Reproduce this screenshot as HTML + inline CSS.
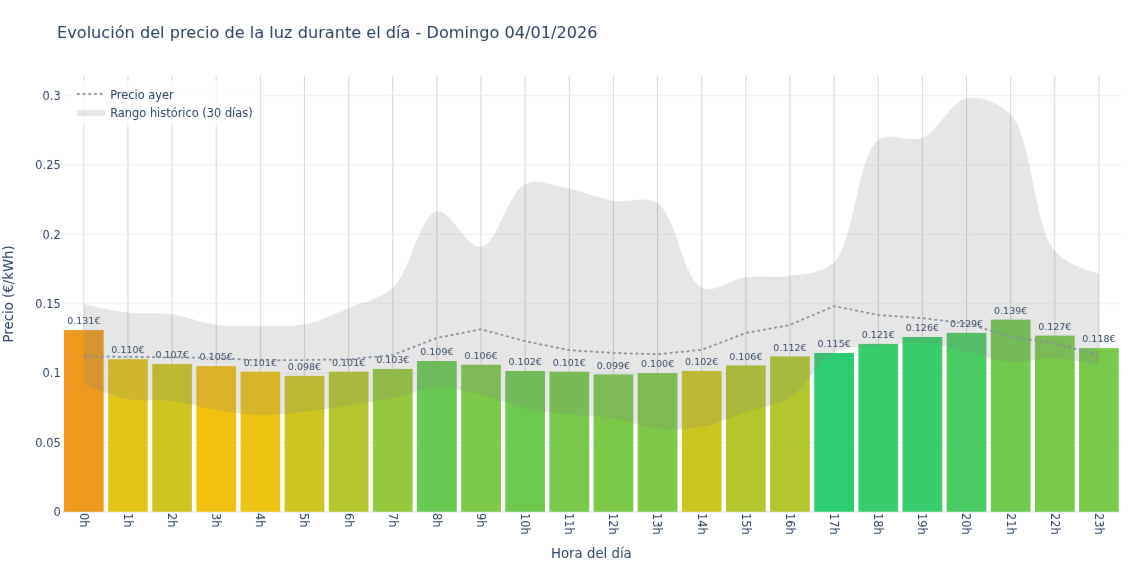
<!DOCTYPE html><html lang="es"><head><meta charset="utf-8"><title>Precio de la luz</title>
<style>html,body{margin:0;padding:0;background:#fff}body{width:1140px;height:570px;overflow:hidden}svg{display:block}text{font-family:"DejaVu Sans","Liberation Sans",sans-serif;fill:#2a3f5f;white-space:pre}</style></head><body>
<svg width="1140" height="570" viewBox="0 0 1140 570">
<defs><filter id="soft" x="0" y="0" width="1140" height="570" filterUnits="userSpaceOnUse" color-interpolation-filters="sRGB"><feConvolveMatrix order="3" kernelMatrix="0.0019 0.0439 0.0019 0.0439 1 0.0439 0.0019 0.0439 0.0019" divisor="1.1835" edgeMode="duplicate" preserveAlpha="true"/></filter></defs>
<rect width="1140" height="570" fill="#fff"/>
<g filter="url(#soft)">
<rect width="1140" height="570" fill="#fff"/>
<g stroke="#d3d3d3" stroke-width="0.95" fill="none">
<path d="M83.82,76 V511.8"/>
<path d="M127.95,76 V511.8"/>
<path d="M172.09,76 V511.8"/>
<path d="M216.22,76 V511.8"/>
<path d="M260.36,76 V511.8"/>
<path d="M304.49,76 V511.8"/>
<path d="M348.63,76 V511.8"/>
<path d="M392.77,76 V511.8"/>
<path d="M436.90,76 V511.8"/>
<path d="M481.04,76 V511.8"/>
<path d="M525.17,76 V511.8"/>
<path d="M569.31,76 V511.8"/>
<path d="M613.44,76 V511.8"/>
<path d="M657.58,76 V511.8"/>
<path d="M701.71,76 V511.8"/>
<path d="M745.85,76 V511.8"/>
<path d="M789.98,76 V511.8"/>
<path d="M834.12,76 V511.8"/>
<path d="M878.26,76 V511.8"/>
<path d="M922.39,76 V511.8"/>
<path d="M966.53,76 V511.8"/>
<path d="M1010.66,76 V511.8"/>
<path d="M1054.80,76 V511.8"/>
<path d="M1098.93,76 V511.8"/>
</g>
<g stroke="#EBF0F8" stroke-width="0.95" fill="none">
<path d="M61.75,442.44 H1121"/>
<path d="M61.75,373.08 H1121"/>
<path d="M61.75,303.72 H1121"/>
<path d="M61.75,234.36 H1121"/>
<path d="M61.75,165.00 H1121"/>
<path d="M61.75,95.64 H1121"/>
</g>
<path d="M61.75,511.8 H1121" stroke="#EBF0F8" stroke-width="1.9" fill="none"/>
<g>
<rect x="63.96" y="330.08" width="39.72" height="181.72" fill="rgb(237,154,31)"/>
<rect x="108.09" y="359.21" width="39.72" height="152.59" fill="rgb(226,197,23)"/>
<rect x="152.23" y="364.06" width="39.72" height="147.74" fill="rgb(206,197,33)"/>
<rect x="196.36" y="366.14" width="39.72" height="145.66" fill="rgb(241,192,16)"/>
<rect x="240.50" y="371.69" width="39.72" height="140.11" fill="rgb(236,196,18)"/>
<rect x="284.63" y="375.85" width="39.72" height="135.95" fill="rgb(206,197,33)"/>
<rect x="328.77" y="371.69" width="39.72" height="140.11" fill="rgb(182,198,45)"/>
<rect x="372.90" y="368.92" width="39.72" height="142.88" fill="rgb(149,200,61)"/>
<rect x="417.04" y="361.01" width="39.72" height="150.79" fill="rgb(105,202,83)"/>
<rect x="461.18" y="364.76" width="39.72" height="147.04" fill="rgb(125,201,74)"/>
<rect x="505.31" y="371.00" width="39.72" height="140.80" fill="rgb(110,201,81)"/>
<rect x="549.45" y="371.69" width="39.72" height="140.11" fill="rgb(120,201,76)"/>
<rect x="593.58" y="374.47" width="39.72" height="137.33" fill="rgb(124,201,74)"/>
<rect x="637.72" y="373.08" width="39.72" height="138.72" fill="rgb(128,201,72)"/>
<rect x="681.85" y="371.00" width="39.72" height="140.80" fill="rgb(203,198,34)"/>
<rect x="725.99" y="365.45" width="39.72" height="146.35" fill="rgb(181,198,45)"/>
<rect x="770.12" y="356.43" width="39.72" height="155.37" fill="rgb(178,199,47)"/>
<rect x="814.26" y="352.97" width="39.72" height="158.83" fill="rgb(46,204,113)"/>
<rect x="858.39" y="343.95" width="39.72" height="167.85" fill="rgb(56,204,108)"/>
<rect x="902.53" y="337.01" width="39.72" height="174.79" fill="rgb(57,204,108)"/>
<rect x="946.67" y="332.85" width="39.72" height="178.95" fill="rgb(75,203,99)"/>
<rect x="990.80" y="319.67" width="39.72" height="192.13" fill="rgb(113,201,79)"/>
<rect x="1034.94" y="335.63" width="39.72" height="176.17" fill="rgb(122,201,75)"/>
<rect x="1079.07" y="348.11" width="39.72" height="163.69" fill="rgb(121,201,76)"/>
</g>
<g font-size="9.5" text-anchor="middle">
<text x="83.82" y="324.28">0.131€</text>
<text x="127.95" y="353.41">0.110€</text>
<text x="172.09" y="358.26">0.107€</text>
<text x="216.22" y="360.34">0.105€</text>
<text x="260.36" y="365.89">0.101€</text>
<text x="304.49" y="370.05">0.098€</text>
<text x="348.63" y="365.89">0.101€</text>
<text x="392.77" y="363.12">0.103€</text>
<text x="436.90" y="355.21">0.109€</text>
<text x="481.04" y="358.96">0.106€</text>
<text x="525.17" y="365.20">0.102€</text>
<text x="569.31" y="365.89">0.101€</text>
<text x="613.44" y="368.67">0.099€</text>
<text x="657.58" y="367.28">0.100€</text>
<text x="701.71" y="365.20">0.102€</text>
<text x="745.85" y="359.65">0.106€</text>
<text x="789.98" y="350.63">0.112€</text>
<text x="834.12" y="347.17">0.115€</text>
<text x="878.26" y="338.15">0.121€</text>
<text x="922.39" y="331.21">0.126€</text>
<text x="966.53" y="327.05">0.129€</text>
<text x="1010.66" y="313.87">0.139€</text>
<text x="1054.80" y="329.83">0.127€</text>
<text x="1098.93" y="342.31">0.118€</text>
</g>
<path d="M83.82,304.14Q113.18,310.77 127.95,312.46C142.60,314.13 157.48,312.22 172.09,314.26C186.90,316.34 201.41,323.01 216.22,324.94C230.83,326.85 245.65,326.03 260.36,325.92C275.07,325.80 290.01,327.13 304.49,324.25C319.45,321.27 334.03,313.91 348.63,307.88C363.45,301.76 379.67,299.66 392.77,287.77C410.43,271.73 420.17,214.44 436.90,211.33C450.32,208.84 467.28,248.92 481.04,246.98C497.04,244.74 507.82,192.02 525.17,184.14C538.36,178.16 554.71,186.10 569.31,188.86C584.13,191.66 598.60,198.55 613.44,200.93C628.03,203.26 644.77,194.94 657.58,203.15C676.40,215.22 683.08,279.27 701.71,287.77C714.56,293.62 731.04,279.18 745.85,277.22C760.46,275.29 775.44,278.44 789.98,275.98C804.88,273.45 821.62,273.97 834.12,261.97C855.03,241.87 856.92,155.81 878.26,140.03C890.71,130.82 908.60,143.47 922.39,137.81C938.34,131.26 950.87,101.37 966.53,98.41C980.49,95.78 998.24,101.83 1010.66,114.78C1032.32,137.36 1033.63,225.95 1054.80,250.87Q1067.27,265.55 1098.93,273.62L1098.93,365.73Q1069.55,358.71 1054.80,358.10C1040.12,357.49 1025.29,363.04 1010.66,361.98C995.86,360.92 981.27,354.77 966.53,351.58C951.84,348.40 937.16,343.75 922.39,342.84C907.74,341.93 892.94,344.42 878.26,346.03C863.51,347.65 847.77,345.61 834.12,352.55C817.90,360.80 806.00,387.56 789.98,397.49C776.23,406.02 760.54,407.00 745.85,411.92C731.12,416.85 716.63,424.27 701.71,427.04C687.20,429.74 672.19,430.15 657.58,428.71C642.77,427.24 628.25,420.48 613.44,418.16C598.82,415.88 583.98,416.56 569.31,414.83C554.56,413.10 539.77,411.12 525.17,407.76C510.34,404.35 495.87,397.80 481.04,394.44C466.44,391.13 451.55,387.05 436.90,387.65C422.13,388.25 407.53,395.18 392.77,398.19C378.10,401.18 363.36,403.41 348.63,405.68C333.94,407.94 319.23,410.21 304.49,411.78C289.81,413.35 275.06,415.39 260.36,415.11C245.63,414.84 230.88,412.46 216.22,410.12C201.46,407.76 186.88,402.76 172.09,400.96C157.45,399.18 142.47,402.00 127.95,399.30Q113.03,396.52 83.82,384.18Z" fill="rgb(128,128,128)" fill-opacity="0.2" stroke="none"/>
<path d="M83.82,356.43L127.95,356.85L172.09,357.40L216.22,357.96L260.36,360.46L304.49,360.04L348.63,359.35L392.77,355.05L436.90,337.98L481.04,329.24L525.17,341.17L569.31,350.19L613.44,352.97L657.58,354.21L701.71,349.78L745.85,332.99L789.98,324.94L834.12,306.08L878.26,314.96L922.39,318.15L966.53,323.42L1010.66,336.74L1054.80,343.39L1098.93,355.05" fill="none" stroke="#85919c" stroke-width="1.75" stroke-dasharray="2.85,2.85"/>
<g font-size="11.4" text-anchor="end">
<text x="60.7" y="516.00">0</text>
<text x="60.7" y="446.64">0.05</text>
<text x="60.7" y="377.28">0.1</text>
<text x="60.7" y="307.92">0.15</text>
<text x="60.7" y="238.56">0.2</text>
<text x="60.7" y="169.20">0.25</text>
<text x="60.7" y="99.84">0.3</text>
</g>
<g font-size="11.4" text-anchor="start">
<text transform="translate(83.82,513.1) rotate(90)" x="0" y="4.1">0h</text>
<text transform="translate(127.95,513.1) rotate(90)" x="0" y="4.1">1h</text>
<text transform="translate(172.09,513.1) rotate(90)" x="0" y="4.1">2h</text>
<text transform="translate(216.22,513.1) rotate(90)" x="0" y="4.1">3h</text>
<text transform="translate(260.36,513.1) rotate(90)" x="0" y="4.1">4h</text>
<text transform="translate(304.49,513.1) rotate(90)" x="0" y="4.1">5h</text>
<text transform="translate(348.63,513.1) rotate(90)" x="0" y="4.1">6h</text>
<text transform="translate(392.77,513.1) rotate(90)" x="0" y="4.1">7h</text>
<text transform="translate(436.90,513.1) rotate(90)" x="0" y="4.1">8h</text>
<text transform="translate(481.04,513.1) rotate(90)" x="0" y="4.1">9h</text>
<text transform="translate(525.17,513.1) rotate(90)" x="0" y="4.1">10h</text>
<text transform="translate(569.31,513.1) rotate(90)" x="0" y="4.1">11h</text>
<text transform="translate(613.44,513.1) rotate(90)" x="0" y="4.1">12h</text>
<text transform="translate(657.58,513.1) rotate(90)" x="0" y="4.1">13h</text>
<text transform="translate(701.71,513.1) rotate(90)" x="0" y="4.1">14h</text>
<text transform="translate(745.85,513.1) rotate(90)" x="0" y="4.1">15h</text>
<text transform="translate(789.98,513.1) rotate(90)" x="0" y="4.1">16h</text>
<text transform="translate(834.12,513.1) rotate(90)" x="0" y="4.1">17h</text>
<text transform="translate(878.26,513.1) rotate(90)" x="0" y="4.1">18h</text>
<text transform="translate(922.39,513.1) rotate(90)" x="0" y="4.1">19h</text>
<text transform="translate(966.53,513.1) rotate(90)" x="0" y="4.1">20h</text>
<text transform="translate(1010.66,513.1) rotate(90)" x="0" y="4.1">21h</text>
<text transform="translate(1054.80,513.1) rotate(90)" x="0" y="4.1">22h</text>
<text transform="translate(1098.93,513.1) rotate(90)" x="0" y="4.1">23h</text>
</g>
<g transform="translate(72.10,80.70)">
<rect x="0" y="0" width="186.8" height="45.5" fill="#fff" fill-opacity="0.8"/>
<path d="M4.75,13.2 h28.5" stroke="#85919c" stroke-width="1.9" stroke-dasharray="2.85,2.85" fill="none"/>
<text x="38.1" y="18.7" font-size="11.4">Precio ayer</text>
<rect x="4.75" y="29.35" width="28.5" height="5.7" fill="rgb(128,128,128)" fill-opacity="0.2"/>
<text x="38.1" y="36.8" font-size="11.4">Rango histórico (30 días)</text>
</g>
<text x="57" y="37.6" font-size="16.15">Evolución del precio de la luz durante el día - Domingo 04/01/2026</text>
<text x="591.38" y="557.6" font-size="13.3" text-anchor="middle">Hora del día</text>
<text transform="translate(13.0,293.90) rotate(-90)" font-size="13.3" text-anchor="middle">Precio (€/kWh)</text>
</g>
</svg></body></html>
